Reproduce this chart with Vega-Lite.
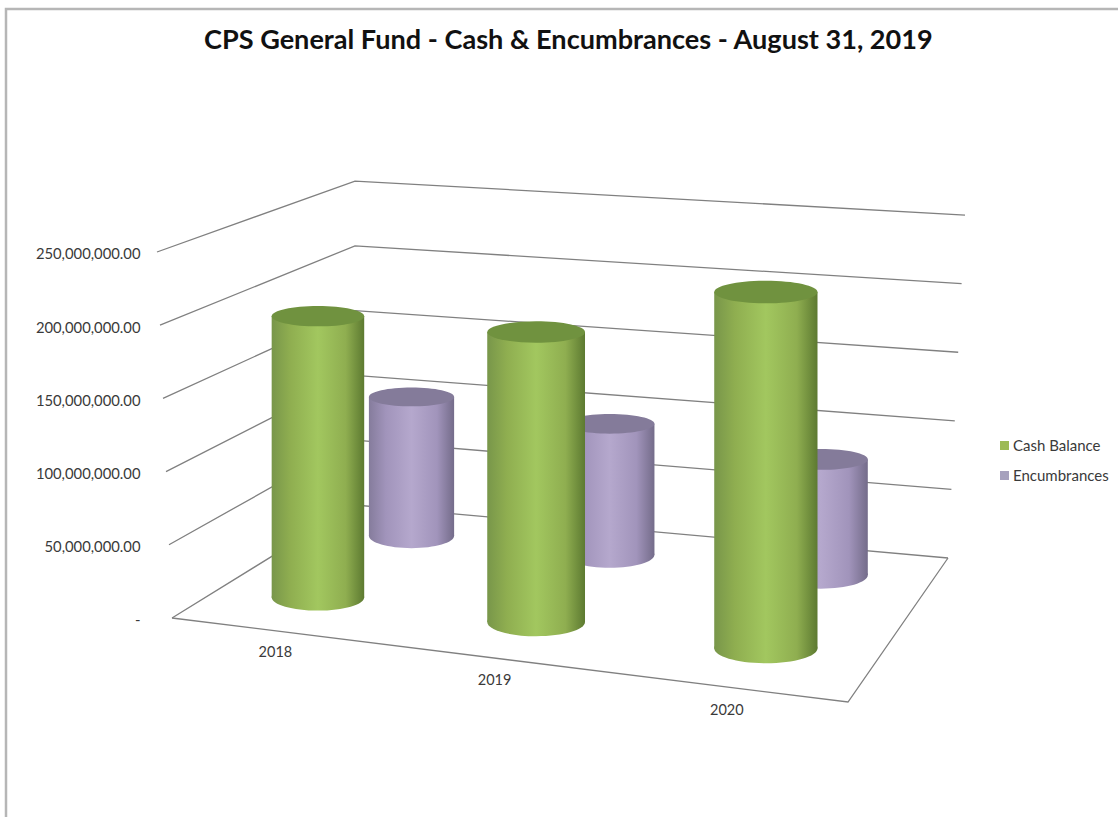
{
  "$schema": "https://vega.github.io/schema/vega-lite/v6.json",
  "width": 1116,
  "height": 812,
  "padding": {"left": 6, "top": 9, "right": 0, "bottom": 0},
  "autosize": "none",
  "background": "white",
  "config": {"view": {"stroke": "#b6b6b6", "strokeWidth": 2.5}, "font": "Lato"},
  "title": {
    "text": "CPS General Fund - Cash & Encumbrances - August 31, 2019",
    "font": "Lato", "fontSize": 27.1, "fontWeight": "bold", "color": "#111111",
    "anchor": "start", "frame": "bounds", "offset": -46, "dx": 198
  },
  "datasets": {
    "funds": [
      {"series": "Encumbrances", "year": 2018, "index": 0, "depth": 0.78, "amount": 104700000},
      {"series": "Encumbrances", "year": 2019, "index": 1, "depth": 0.78, "amount": 94000000},
      {"series": "Encumbrances", "year": 2020, "index": 2, "depth": 0.78, "amount": 79000000},
      {"series": "Cash Balance", "year": 2018, "index": 0, "depth": 0.25, "amount": 195000000},
      {"series": "Cash Balance", "year": 2019, "index": 1, "depth": 0.25, "amount": 190500000},
      {"series": "Cash Balance", "year": 2020, "index": 2, "depth": 0.25, "amount": 221500000}
    ],
    "frame": [
      {"path": "0", "level": 0, "corner": "FL", "step": 0},
      {"path": "0", "level": 0, "corner": "BL", "step": 1},
      {"path": "0", "level": 0, "corner": "BR", "step": 2},
      {"path": "50", "level": 50000000, "corner": "FL", "step": 0},
      {"path": "50", "level": 50000000, "corner": "BL", "step": 1},
      {"path": "50", "level": 50000000, "corner": "BR", "step": 2},
      {"path": "100", "level": 100000000, "corner": "FL", "step": 0},
      {"path": "100", "level": 100000000, "corner": "BL", "step": 1},
      {"path": "100", "level": 100000000, "corner": "BR", "step": 2},
      {"path": "150", "level": 150000000, "corner": "FL", "step": 0},
      {"path": "150", "level": 150000000, "corner": "BL", "step": 1},
      {"path": "150", "level": 150000000, "corner": "BR", "step": 2},
      {"path": "200", "level": 200000000, "corner": "FL", "step": 0},
      {"path": "200", "level": 200000000, "corner": "BL", "step": 1},
      {"path": "200", "level": 200000000, "corner": "BR", "step": 2},
      {"path": "250", "level": 250000000, "corner": "FL", "step": 0},
      {"path": "250", "level": 250000000, "corner": "BL", "step": 1},
      {"path": "250", "level": 250000000, "corner": "BR", "step": 2},
      {"path": "floor", "level": 0, "corner": "FL", "step": 0},
      {"path": "floor", "level": 0, "corner": "FR", "step": 1},
      {"path": "floor", "level": 0, "corner": "BR", "step": 2}
    ]
  },
  "data": {"name": "funds"},
  "transform": [
    {"calculate": "datum.depth > 0.5 ? [0.171, 0.513, 0.843][datum.index] : [0.166, 0.519, 0.852][datum.index]", "as": "u"},
    {"calculate": "1 - 0.1542 * datum.u + 0.16597 * datum.depth", "as": "persp"},
    {"calculate": "(545.24 * datum.u + 241.92 * datum.depth + 172) / datum.persp", "as": "cx"},
    {"calculate": "(-24.25 * datum.u - 29.19 * datum.depth + 618) / datum.persp", "as": "baseY"},
    {"calculate": "94 / datum.persp", "as": "girth"},
    {"calculate": "(618 - datum.baseY) * 683060", "as": "floorLift"},
    {"calculate": "datum.floorLift + datum.amount / datum.persp", "as": "topLift"},
    {"calculate": "datum.cx - datum.girth / 2", "as": "x0"},
    {"calculate": "datum.cx + datum.girth / 2", "as": "x1"},
    {"calculate": "datum.girth * datum.girth", "as": "capArea"}
  ],
  "layer": [
    {
      "data": {"name": "frame"},
      "transform": [
        {"calculate": "{FL: 172, BL: 355, BR: 948, FR: 848}[datum.corner] + {FL: -15, BL: 0, BR: 17, FR: 0}[datum.corner] * datum.level / 250000000", "as": "fx"},
        {"calculate": "(618 - {FL: 618, BL: 505, BR: 558, FR: 702}[datum.corner]) * 683060 + {FL: 1, BL: 0.885, BR: 0.937, FR: 1}[datum.corner] * datum.level", "as": "fy"}
      ],
      "mark": {"type": "line", "color": "#808080", "strokeWidth": 1.3, "interpolate": "linear"},
      "encoding": {
        "x": {"field": "fx", "type": "quantitative", "scale": {"domain": [6, 1122], "nice": false, "zero": false}, "axis": null},
        "y": {
          "field": "fy", "type": "quantitative",
          "scale": {"domain": [-138661800, 415983700], "nice": false, "zero": false},
          "axis": {
            "title": null, "orient": "left", "offset": -134, "values": [0, 50000000, 100000000, 150000000, 200000000, 250000000],
            "labelExpr": "datum.value === 0 ? '-' : format(datum.value, ',.2f')",
            "domain": false, "ticks": false, "grid": false, "labelPadding": 0, "labelOffset": 3, "labelFont": "Lato", "labelFontSize": 14.8, "labelColor": "#3a3a3a"
          }
        },
        "detail": {"field": "path"},
        "order": {"field": "step"}
      }
    },
    {
      "mark": {"type": "point", "filled": true, "opacity": 1},
      "encoding": {
        "x": {"field": "cx", "type": "quantitative", "axis": null},
        "y": {"field": "floorLift", "type": "quantitative"},
        "size": {"value": 0},
        "color": {
          "field": "series", "type": "nominal", "sort": ["Cash Balance", "Encumbrances"],
          "scale": {"domain": ["Cash Balance", "Encumbrances"], "range": ["#9dba55", "#a6a1bd"]},
          "legend": {
            "title": null, "orient": "none", "legendX": 991, "legendY": 429,
            "symbolType": "square", "symbolSize": 81, "symbolOpacity": 1, "labelFont": "Lato", "labelFontSize": 15, "labelColor": "#3a3a3a", "rowPadding": 14, "symbolOffset": 0, "labelOffset": 1
          }
        }
      }
    },
    {
      "transform": [{"filter": "datum.series === 'Encumbrances'"}],
      "mark": {"type": "point", "filled": true, "opacity": 1,
        "shape": "M-1,0A1,0.29 0 1,1 1,0A1,0.29 0 1,1 -1,0Z",
        "fill": {"gradient": "linear", "x1": 0, "x2": 1, "y1": 0, "y2": 0, "stops": [{"offset": 0, "color": "#857c9c"}, {"offset": 0.2, "color": "#a194bb"}, {"offset": 0.5, "color": "#b5a8cd"}, {"offset": 0.8, "color": "#a194bb"}, {"offset": 1, "color": "#746c8a"}]}},
      "encoding": {
        "x": {"field": "cx", "type": "quantitative", "axis": null},
        "y": {"field": "floorLift", "type": "quantitative"},
        "size": {"field": "capArea", "type": "quantitative", "scale": null}
      }
    },
    {
      "transform": [{"filter": "datum.series === 'Encumbrances'"}],
      "mark": {"type": "rect",
        "fill": {"gradient": "linear", "x1": 0, "x2": 1, "y1": 0, "y2": 0, "stops": [{"offset": 0, "color": "#857c9c"}, {"offset": 0.2, "color": "#a194bb"}, {"offset": 0.5, "color": "#b5a8cd"}, {"offset": 0.8, "color": "#a194bb"}, {"offset": 1, "color": "#746c8a"}]}},
      "encoding": {
        "x": {"field": "x0", "type": "quantitative", "axis": null},
        "x2": {"field": "x1"},
        "y": {"field": "topLift", "type": "quantitative"},
        "y2": {"field": "floorLift"}
      }
    },
    {
      "transform": [{"filter": "datum.series === 'Encumbrances'"}],
      "mark": {"type": "point", "filled": true, "opacity": 1, "color": "#847b9a", "shape": "M-1,0A1,0.22 0 1,1 1,0A1,0.22 0 1,1 -1,0Z"},
      "encoding": {
        "x": {"field": "cx", "type": "quantitative", "axis": null},
        "y": {"field": "topLift", "type": "quantitative"},
        "size": {"field": "capArea", "type": "quantitative", "scale": null}
      }
    },
    {
      "transform": [{"filter": "datum.series === 'Cash Balance'"}],
      "mark": {"type": "point", "filled": true, "opacity": 1,
        "shape": "M-1,0A1,0.29 0 1,1 1,0A1,0.29 0 1,1 -1,0Z",
        "fill": {"gradient": "linear", "x1": 0, "x2": 1, "y1": 0, "y2": 0, "stops": [{"offset": 0, "color": "#78964a"}, {"offset": 0.2, "color": "#8fae50"}, {"offset": 0.5, "color": "#a2c75f"}, {"offset": 0.8, "color": "#8fae50"}, {"offset": 1, "color": "#5d7a31"}]}},
      "encoding": {
        "x": {"field": "cx", "type": "quantitative", "axis": null},
        "y": {"field": "floorLift", "type": "quantitative"},
        "size": {"field": "capArea", "type": "quantitative", "scale": null}
      }
    },
    {
      "transform": [{"filter": "datum.series === 'Cash Balance'"}],
      "mark": {"type": "rect",
        "fill": {"gradient": "linear", "x1": 0, "x2": 1, "y1": 0, "y2": 0, "stops": [{"offset": 0, "color": "#78964a"}, {"offset": 0.2, "color": "#8fae50"}, {"offset": 0.5, "color": "#a2c75f"}, {"offset": 0.8, "color": "#8fae50"}, {"offset": 1, "color": "#5d7a31"}]}},
      "encoding": {
        "x": {"field": "x0", "type": "quantitative", "axis": null},
        "x2": {"field": "x1"},
        "y": {"field": "topLift", "type": "quantitative"},
        "y2": {"field": "floorLift"}
      }
    },
    {
      "transform": [{"filter": "datum.series === 'Cash Balance'"}],
      "mark": {"type": "point", "filled": true, "opacity": 1, "color": "#70923f", "shape": "M-1,0A1,0.22 0 1,1 1,0A1,0.22 0 1,1 -1,0Z"},
      "encoding": {
        "x": {"field": "cx", "type": "quantitative", "axis": null},
        "y": {"field": "topLift", "type": "quantitative"},
        "size": {"field": "capArea", "type": "quantitative", "scale": null}
      }
    },
    {
      "transform": [
        {"filter": "datum.series === 'Cash Balance'"},
        {"calculate": "(545.24 * datum.u + 172) / (1 - 0.1542 * datum.u) + 6 - 6 * datum.index", "as": "tx"},
        {"calculate": "(618 - (-24.25 * datum.u + 618) / (1 - 0.1542 * datum.u) - 23) * 683060", "as": "ty"}
      ],
      "mark": {"type": "text", "font": "Lato", "fontSize": 14.5, "color": "#3a3a3a", "align": "center", "baseline": "middle"},
      "encoding": {
        "x": {"field": "tx", "type": "quantitative", "axis": null},
        "y": {"field": "ty", "type": "quantitative"},
        "text": {"field": "year", "type": "nominal"}
      }
    }
  ]
}
